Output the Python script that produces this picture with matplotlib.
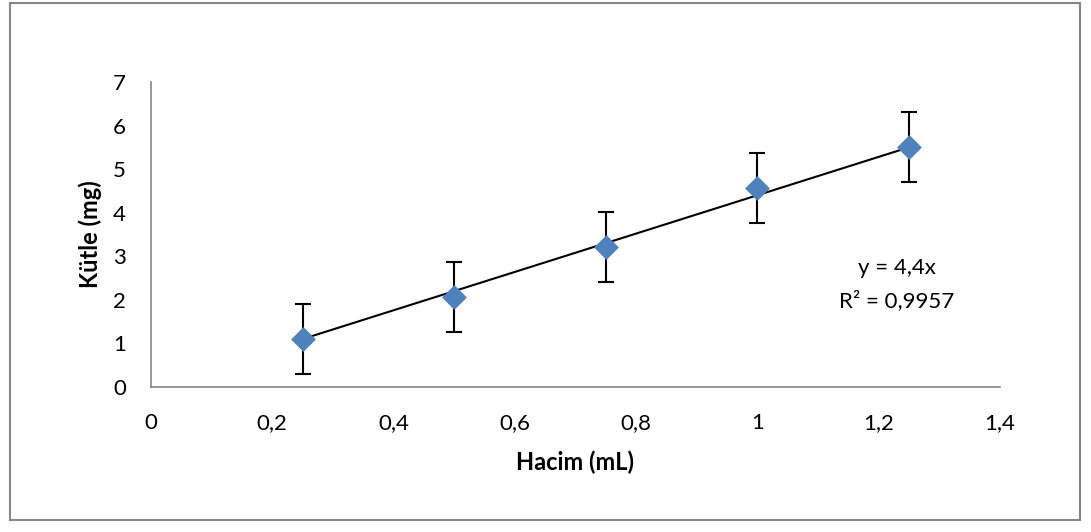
import numpy as np
import matplotlib.pyplot as plt
from matplotlib.patches import Rectangle

plt.rcParams['font.family'] = ['Lato', 'DejaVu Sans']

hacim = [0.25, 0.5, 0.75, 1.0, 1.25]
kutle = [1.10, 2.06, 3.21, 4.56, 5.50]
hata = [0.8, 0.8, 0.8, 0.8, 0.8]
egim = 4.4
xticks = [0, 0.2, 0.4, 0.6, 0.8, 1, 1.2, 1.4]
xtick_labels = ['0', '0,2', '0,4', '0,6', '0,8', '1', '1,2', '1,4']
yticks = [0, 1, 2, 3, 4, 5, 6, 7]

fig = plt.figure(figsize=(10.91, 5.32), dpi=100)
fig.patches.append(Rectangle((0.009, 0.022), 0.981, 0.973, transform=fig.transFigure,
                             fill=False, edgecolor='#868686', linewidth=1.5))
ax = fig.add_axes([0.1384, 0.2726, 0.778, 0.5733])

xs = np.array([hacim[0], hacim[-1]])
ax.plot(xs, egim*xs, color='black', linewidth=1.5, zorder=2)
ax.errorbar(hacim, kutle, yerr=hata, fmt='none', ecolor='black', elinewidth=1.5,
            capsize=6, capthick=1.5, zorder=3)
ax.scatter(hacim, kutle, marker='D', s=160, color='#4F81BD', zorder=4, linewidths=0)

ax.text(1.23, 2.72, 'y = 4,4x', fontsize=16, ha='center', va='center')
ax.text(1.23, 1.98, 'R² = 0,9957', fontsize=16, ha='center', va='center')

ax.set_xlim(0, 1.4)
ax.set_ylim(0, 7)
ax.set_xticks(xticks)
ax.set_xticklabels(xtick_labels)
ax.set_yticks(yticks)
ax.tick_params(length=0, labelsize=16, pad=19)
ax.tick_params(axis='y', pad=18)
for s in ['top', 'right']:
    ax.spines[s].set_visible(False)
for s in ['left', 'bottom']:
    ax.spines[s].set_color('#868686')
    ax.spines[s].set_linewidth(1.2)

ax.set_xlabel('Hacim (mL)', fontsize=17, fontweight='bold', labelpad=12)
ax.set_ylabel('Kütle (mg)', fontsize=17, fontweight='bold', labelpad=8)

fig.savefig('out.png', dpi=100)
